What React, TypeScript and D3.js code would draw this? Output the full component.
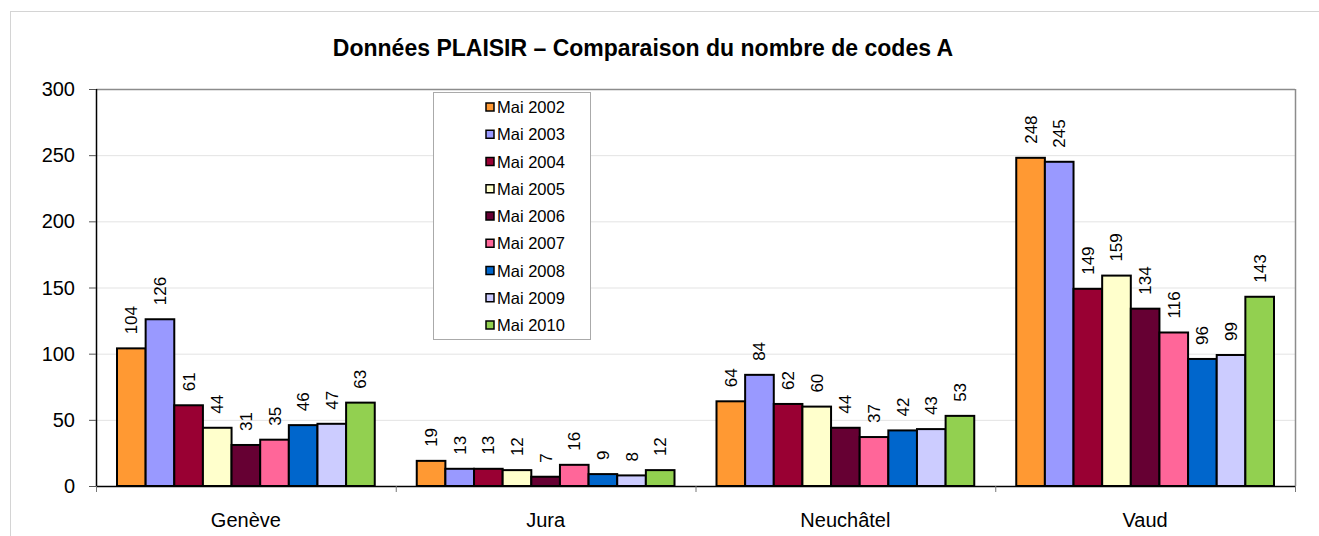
import React from "react";
import * as d3 from "d3";

const categories = ["Genève", "Jura", "Neuchâtel", "Vaud"];
const seriesNames = [
  "Mai 2002", "Mai 2003", "Mai 2004", "Mai 2005", "Mai 2006",
  "Mai 2007", "Mai 2008", "Mai 2009", "Mai 2010",
];
const seriesColors = [
  "#FF9933", "#9999FF", "#990033", "#FFFFCC", "#660033",
  "#FF6699", "#0066CC", "#CCCCFF", "#92D050",
];
// values per series, in category order
const mai2002 = [104, 19, 64, 248];
const mai2003 = [126, 13, 84, 245];
const mai2004 = [61, 13, 62, 149];
const mai2005 = [44, 12, 60, 159];
const mai2006 = [31, 7, 44, 134];
const mai2007 = [35, 16, 37, 116];
const mai2008 = [46, 9, 42, 96];
const mai2009 = [47, 8, 43, 99];
const mai2010 = [63, 12, 53, 143];
const seriesValues = [mai2002, mai2003, mai2004, mai2005, mai2006, mai2007, mai2008, mai2009, mai2010];
const yTicks = [0, 50, 100, 150, 200, 250, 300];

const FONT = "Arial, 'Liberation Sans', sans-serif";

export default function App() {
  const width = 1319;
  const height = 536;
  const plot = { left: 96, top: 89, right: 1295, bottom: 486 };

  const x0 = d3.scaleBand().domain(categories).range([plot.left, plot.right]).padding(0);
  const gap = 21;
  const x1 = d3
    .scaleBand()
    .domain(seriesNames)
    .range([gap, x0.bandwidth() - gap])
    .padding(0);
  const y = d3.scaleLinear().domain([0, 300]).range([plot.bottom, plot.top]);

  const legend = { x: 433, y: 92, w: 157, h: 247 };
  const legendRow = d3.scaleLinear().domain([0, seriesNames.length - 1]).range([107, 325]);

  return (
    <svg width={width} height={height} style={{ position: "absolute", left: 0, top: 0 }} fontFamily={FONT}>
      <rect x={0} y={0} width={width} height={height} fill="#fff" />
      {/* chart area border */}
      <rect x={10.5} y={11.5} width={width + 20} height={height + 20} fill="none" stroke="#d4d4d4" />

      <text x={643} y={56} textAnchor="middle" fontSize={23} fontWeight="bold" fill="#000">
        Données PLAISIR – Comparaison du nombre de codes A
      </text>

      {/* gridlines */}
      {yTicks.slice(1, -1).map((t) => (
        <line key={t} x1={plot.left} x2={plot.right} y1={y(t) + 0.5} y2={y(t) + 0.5} stroke="#e3e3e3" />
      ))}

      {/* plot frame */}
      <line x1={plot.left} x2={plot.right} y1={plot.top + 0.5} y2={plot.top + 0.5} stroke="#8c8c8c" strokeWidth={1.5} />
      <line x1={plot.right + 0.5} x2={plot.right + 0.5} y1={plot.top} y2={plot.bottom} stroke="#8c8c8c" strokeWidth={1.5} />

      {/* bars */}
      {categories.map((c, ci) => (
        <g key={c} transform={`translate(${x0(c)},0)`}>
          {seriesNames.map((s, si) => {
            const v = seriesValues[si][ci];
            const bx = x1(s) as number;
            const bw = x1.bandwidth();
            return (
              <g key={s}>
                <rect
                  x={bx}
                  y={y(v)}
                  width={bw}
                  height={plot.bottom - y(v)}
                  fill={seriesColors[si]}
                  stroke="#000"
                  strokeWidth={2}
                />
                <text
                  transform={`translate(${bx + bw / 2 + 6},${y(v) - 14}) rotate(-90)`}
                  fontSize={17}
                  fill="#000"
                >
                  {v}
                </text>
              </g>
            );
          })}
        </g>
      ))}

      {/* axes */}
      <line x1={plot.left + 0.5} x2={plot.left + 0.5} y1={plot.top} y2={plot.bottom} stroke="#000" strokeWidth={1.5} />
      <line x1={plot.left} x2={plot.right} y1={plot.bottom + 0.5} y2={plot.bottom + 0.5} stroke="#000" strokeWidth={1.5} />
      {yTicks.map((t) => (
        <g key={t}>
          <line x1={plot.left - 7} x2={plot.left} y1={y(t) + 0.5} y2={y(t) + 0.5} stroke="#555" />
          <text x={75} y={y(t) + 7} textAnchor="end" fontSize={20} fill="#000">
            {t}
          </text>
        </g>
      ))}
      {[...categories.map((c) => x0(c) as number), plot.right].map((xv, i) => (
        <line key={i} x1={xv + 0.5} x2={xv + 0.5} y1={plot.bottom} y2={plot.bottom + 6} stroke="#777" />
      ))}
      {categories.map((c) => (
        <text
          key={c}
          x={(x0(c) as number) + x0.bandwidth() / 2}
          y={527}
          textAnchor="middle"
          fontSize={20}
          fill="#000"
        >
          {c}
        </text>
      ))}

      {/* legend */}
      <rect x={legend.x + 0.5} y={legend.y + 0.5} width={legend.w} height={legend.h} fill="#fff" stroke="#aaa" />
      {seriesNames.map((s, i) => (
        <g key={s} transform={`translate(0,${legendRow(i)})`}>
          <rect x={486} y={-4} width={8} height={8} fill={seriesColors[i]} stroke="#000" strokeWidth={1.5} />
          <text x={497} y={6} fontSize={16.5} fill="#000">
            {s}
          </text>
        </g>
      ))}
    </svg>
  );
}
